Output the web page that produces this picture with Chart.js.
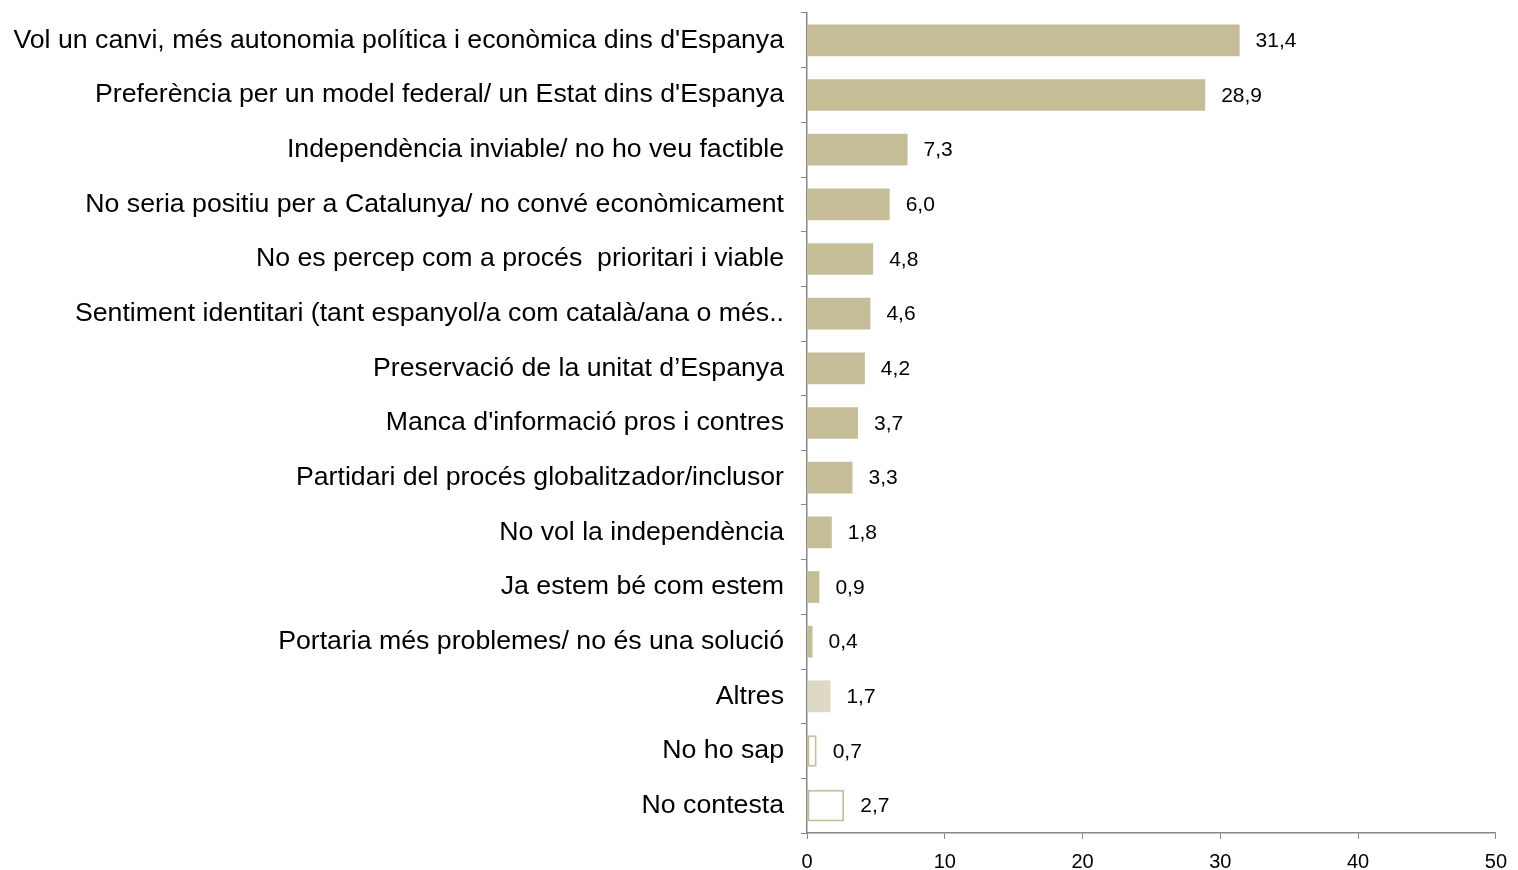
<!DOCTYPE html>
<html>
<head>
<meta charset="utf-8">
<script src="https://cdn.jsdelivr.net/npm/chart.js@4/dist/chart.umd.min.js"></script>
<style>
  html,body{margin:0;padding:0;background:#fff;}
  #wrap{width:1518px;height:870px;position:relative;}
</style>
</head>
<body>
<div id="wrap"><canvas id="c"></canvas></div>
<script>
// dades
const categories = [
  "Vol un canvi, més autonomia política i econòmica dins d'Espanya",
  "Preferència per un model federal/ un Estat dins d'Espanya",
  "Independència inviable/ no ho veu factible",
  "No seria positiu per a Catalunya/ no convé econòmicament",
  "No es percep com a procés  prioritari i viable",
  "Sentiment identitari (tant espanyol/a com català/ana o més..",
  "Preservació de la unitat d’Espanya",
  "Manca d'informació pros i contres",
  "Partidari del procés globalitzador/inclusor",
  "No vol la independència",
  "Ja estem bé com estem",
  "Portaria més problemes/ no és una solució",
  "Altres",
  "No ho sap",
  "No contesta"
];
const values = [31.4, 28.9, 7.3, 6.0, 4.8, 4.6, 4.2, 3.7, 3.3, 1.8, 0.9, 0.4, 1.7, 0.7, 2.7];
const xTicks = [0, 10, 20, 30, 40, 50];

const FONT = "'Liberation Sans', Arial, sans-serif";
const mainColor = "#C4BD97";
const fills = values.map((v,i)=> i<12 ? mainColor : (i===12 ? "#DDD9C4" : "#FFFFFF"));
const borders = values.map((v,i)=> i<13 ? "rgba(0,0,0,0)" : mainColor);
const borderW = values.map((v,i)=> i<13 ? 0 : 2);

// etiquetes de valor
const valueLabels = {
  id:"valueLabels",
  afterDatasetsDraw(chart){
    const ctx = chart.ctx;
    const meta = chart.getDatasetMeta(0);
    ctx.save();
    ctx.font = "21px " + FONT;
    ctx.fillStyle = "#000";
    ctx.textAlign = "left";
    ctx.textBaseline = "middle";
    meta.data.forEach((bar,i)=>{
      ctx.fillText(values[i].toFixed(1).replace(".", ","), bar.x + 16, bar.y + 1);
    });
    ctx.restore();
  }
};

new Chart(document.getElementById("c"),{
  type:"bar",
  data:{
    labels:categories,
    datasets:[{
      data:values,
      backgroundColor:fills,
      borderColor:borders,
      borderWidth:borderW,
      borderSkipped:false,
      barPercentage:0.58,
      categoryPercentage:1.0
    }]
  },
  options:{
    indexAxis:"y",
    responsive:true,
    maintainAspectRatio:false,
    animation:false,
    layout:{padding:{top:13,right:21,left:0,bottom:0}},
    plugins:{legend:{display:false},tooltip:{enabled:false}},
    scales:{
      x:{
        min:0,max:50,
        afterBuildTicks(s){ s.ticks = xTicks.map(v=>({value:v})); },
        afterFit(s){ s.height = 37; },
        grid:{drawOnChartArea:false,drawTicks:true,tickLength:6,color:"#868686"},
        border:{color:"#868686",width:1.5},
        ticks:{color:"#000",padding:11,font:{size:20,family:FONT}}
      },
      y:{
        afterFit(s){ s.width = 807; s.paddingTop = 0; s.paddingBottom = 0; },
        grid:{drawOnChartArea:false,drawTicks:true,tickLength:6,offset:true,color:"#868686"},
        border:{color:"#868686",width:1.5},
        ticks:{color:"#000",padding:17,autoSkip:false,font:{size:26.7,family:FONT}}
      }
    }
  },
  plugins:[valueLabels]
});
</script>
</body>
</html>
